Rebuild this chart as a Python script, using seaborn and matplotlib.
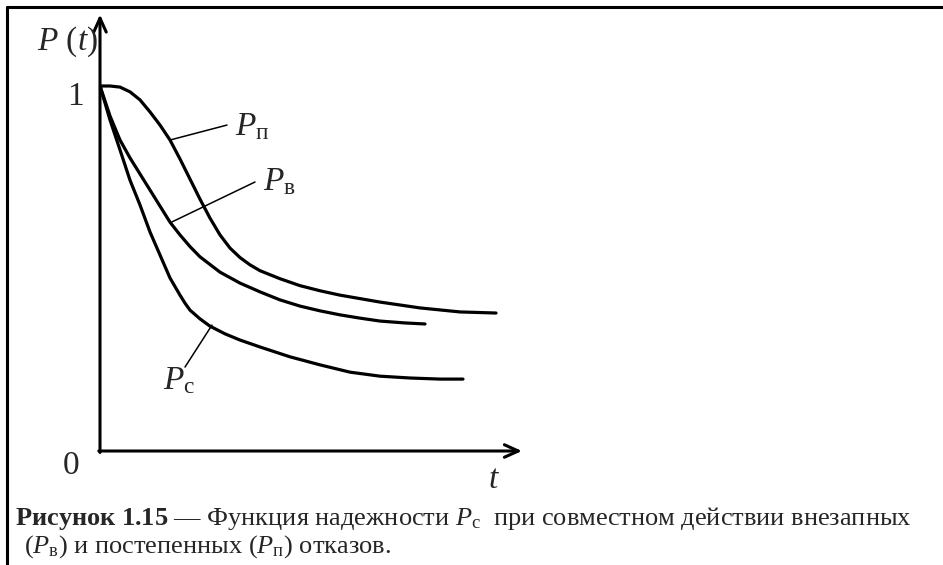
import matplotlib
matplotlib.use("Agg")
import matplotlib.pyplot as plt
import pandas as pd
import seaborn as sns
from matplotlib.lines import Line2D

# curve P_п (gradual failures)
t_p = [0, 0.25, 0.5, 0.75, 1.0, 1.25, 1.5, 1.75, 2.0, 2.25, 2.5, 2.75, 3.0, 3.25, 3.5, 3.75, 4.0,
       4.5, 5.0, 5.5, 6.0, 7.0, 8.0, 9.0, 9.9]
p_p = [1.0, 1.0, 0.997, 0.984, 0.962, 0.929, 0.893, 0.852, 0.800, 0.745, 0.690, 0.638, 0.592, 0.556,
       0.530, 0.510, 0.494, 0.472, 0.453, 0.439, 0.427, 0.408, 0.392, 0.381, 0.378]

# curve P_в (sudden failures)
t_v = [0, 0.25, 0.5, 0.75, 1.0, 1.25, 1.5, 1.75, 2.0, 2.25, 2.5, 3.0, 3.5, 4.0, 4.5, 5.0, 5.5, 6.0,
       6.5, 7.0, 7.6, 8.125]
p_v = [1.0, 0.918, 0.852, 0.803, 0.759, 0.715, 0.671, 0.627, 0.592, 0.560, 0.532, 0.490, 0.460, 0.436,
       0.414, 0.397, 0.384, 0.373, 0.364, 0.356, 0.351, 0.348]

# curve P_с (combined)
t_c = [0, 0.25, 0.5, 0.75, 1.0, 1.25, 1.5, 1.75, 2.0, 2.125, 2.25, 2.5, 2.75, 3.125, 3.5, 4.0, 4.75,
       5.5, 6.25, 7.0, 7.75, 8.5, 9.075]
p_c = [1.0, 0.907, 0.825, 0.742, 0.674, 0.600, 0.537, 0.474, 0.427, 0.405, 0.386, 0.362, 0.342, 0.321,
       0.304, 0.285, 0.258, 0.236, 0.216, 0.205, 0.200, 0.197, 0.197]

curve_names = ["п", "в", "с"]

# leader lines: (point on curve) -> (end near label)
leaders = {
    "п": [(1.75, 0.852), (3.175, 0.893)],
    "в": [(1.75, 0.625), (3.875, 0.737)],
    "с": [(2.8, 0.345), (2.125, 0.230)],
}
label_pos = {"п": (3.375, 0.866), "в": (4.075, 0.715), "с": (1.575, 0.170)}

caption_1 = r"$\mathbf{Рисунок\ 1.15}$ — Функция надежности $P_\mathrm{с}$  при совместном действии внезапных"
caption_2 = r"($P_\mathrm{в}$) и постепенных ($P_\mathrm{п}$) отказов."

sns.set_theme(style="white")
plt.rcParams["font.family"] = ["Liberation Serif", "DejaVu Serif"]
plt.rcParams["mathtext.fontset"] = "custom"
plt.rcParams["mathtext.rm"] = "Liberation Serif"
plt.rcParams["mathtext.it"] = "Liberation Serif:italic"
plt.rcParams["mathtext.bf"] = "Liberation Serif:bold"

W, H = 943, 565
fig = plt.figure(figsize=(W / 100, H / 100), dpi=100)
fig.patch.set_facecolor("white")

# frame around the figure (top and left visible)
fig.add_artist(Line2D([7 / W, 1], [1 - 7 / H, 1 - 7 / H], color="black", lw=2.2))
fig.add_artist(Line2D([7 / W, 7 / W], [0, 1 - 7 / H], color="black", lw=2.2))

ax = fig.add_axes([100 / W, (H - 451) / H, 422 / W, 438 / H])
ax.set_xlim(0, 10.55)
ax.set_ylim(0, 1.2)
ax.axis("off")

df = pd.concat([
    pd.DataFrame({"t": t_p, "P": p_p, "curve": "п"}),
    pd.DataFrame({"t": t_v, "P": p_v, "curve": "в"}),
    pd.DataFrame({"t": t_c, "P": p_c, "curve": "с"}),
])
sns.lineplot(data=df, x="t", y="P", hue="curve", units="curve", estimator=None,
             palette=["black"] * 3, linewidth=2.3, legend=False, ax=ax, sort=False,
             solid_joinstyle="round", solid_capstyle="round")

arrow = dict(arrowstyle="->,head_length=1.0,head_width=0.45", lw=2.2, color="black",
             shrinkA=0, shrinkB=0, mutation_scale=10)
ax.annotate("", xy=(10.55, 0), xytext=(-0.03, 0), arrowprops=arrow, annotation_clip=False)
ax.annotate("", xy=(0, 1.196), xytext=(0, -0.004), arrowprops=arrow, annotation_clip=False)

for name in curve_names:
    (x0, y0), (x1, y1) = leaders[name]
    ax.plot([x0, x1], [y0, y1], color="black", lw=1.1)
    lx, ly = label_pos[name]
    ax.text(lx, ly, "$P_\\mathrm{" + name + "}$", fontsize=24, va="baseline", ha="left")

ax.text(-1.575, 1.099, "$P$ ($t$)", fontsize=24, va="baseline", ha="left", clip_on=False)
ax.text(-0.825, 0.948, "1", fontsize=24, va="baseline", ha="left", clip_on=False)
ax.text(-0.925, -0.063, "0", fontsize=24, va="baseline", ha="left", clip_on=False)
ax.text(9.7, -0.101, "$t$", fontsize=24, va="baseline", ha="left", clip_on=False)

fig.text(15 / W, 1 - 525 / H, caption_1, fontsize=19, va="baseline", ha="left")
fig.text(24 / W, 1 - 553 / H, caption_2, fontsize=19, va="baseline", ha="left")

fig.savefig("out.png", dpi=100, facecolor="white")
